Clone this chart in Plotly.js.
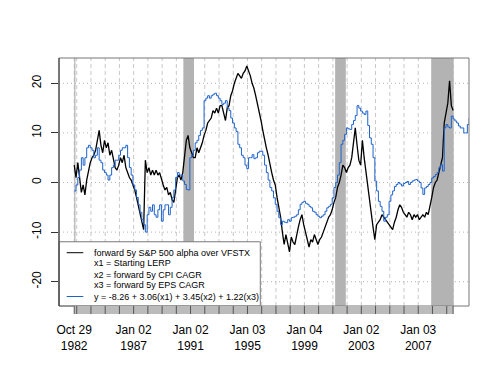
<!DOCTYPE html>
<html><head><meta charset="utf-8">
<script src="https://cdn.plot.ly/plotly-3.0.1.min.js"></script>
<style>body{margin:0;background:#fff}#chart{width:500px;height:380px}</style>
</head><body><div id="chart"></div>
<script>
// ---- data ----
const startYear = 1982.83;      // Oct 29 1982
const stepYears = 0.125;        // sampling step of the series below

// forward 5y S&P 500 alpha over VFSTX
const alphaVals = [
  3.5, 1.0, 4.0, 0.5, -2.0, -0.5, -2.5, 0.5,
  2.5, 4.0, 5.0, 5.5, 6.5, 8.5, 10.5, 7.5,
  6.0, 8.5, 7.0, 8.0, 5.5, 6.5, 5.0, 3.0,
  2.5, 3.5, 5.0, 4.0, 5.5, 3.0, 2.0, 1.0,
  0.5, -0.5, -1.5, -3.0, -4.5, -6.0, -7.5, -9.5,
  4.5, 2.0, 3.0, 1.5, 2.5, 1.5, 2.5, 1.5,
  2.0, 0.5, -0.5, -1.5, -1.0, -2.5, -2.0, -3.5,
  -4.0, -1.5, 1.0, 1.5, 0.5, 2.0, 5.0, 8.5,
  9.5, 7.0, 6.0, 5.0, 5.0, 7.0, 6.0, 7.0,
  8.0, 9.5, 10.5, 12.0, 12.5, 13.0, 14.5, 14.0,
  15.0, 14.0, 15.5, 15.5, 14.0, 12.5, 15.0, 15.5,
  17.5, 18.5, 20.0, 21.0, 22.0, 21.5, 21.0, 22.0,
  22.5, 23.5, 22.5, 21.5, 20.0, 19.0, 17.5, 16.0,
  14.5, 12.5, 10.5, 8.5, 7.0, 5.5, 3.5, 2.0,
  0.5, -0.5, -3.0, -5.0, -7.0, -10.0, -12.5, -10.5,
  -12.0, -14.0, -11.0, -12.0, -12.5, -10.5, -9.0, -7.5,
  -6.5, -8.5, -10.0, -12.0, -13.0, -11.5, -12.0, -10.5,
  -11.5, -12.5, -11.5, -11.0, -10.0, -9.0, -8.0, -7.0,
  -6.5, -5.5, -4.0, -3.0, -1.0, 0.0, 1.5, 3.5,
  3.0, 2.0, 3.0, 3.5, 5.0, 8.0, 11.0, 7.5,
  4.5, 3.5, 8.5, 5.0, 2.0, -0.5, -4.0, -7.0,
  -9.0, -11.5, -8.5, -8.0, -7.5, -6.5, -7.0, -7.5,
  -8.0, -8.5, -9.0, -9.5, -8.0, -7.0, -5.5, -4.5,
  -5.0, -6.0, -6.5, -7.0, -6.0, -6.5, -7.5, -6.5,
  -7.0, -6.5, -7.5, -7.0, -6.5, -7.0, -6.0, -6.5,
  -5.0, -3.0, -1.0, 0.0, 0.5, 2.0, 3.0, 5.0,
  12.0, 14.5, 16.0, 20.5, 15.5, 14.5
];

// y = -8.26 + 3.06(x1) + 3.45(x2) + 1.22(x3)
const modelVals = [
  -1.7, -0.5, 1.0, 2.5, 5.0, 3.5, 5.0, 7.0,
  7.5, 7.0, 6.5, 5.0, 5.5, 7.0, 4.5, 4.0,
  2.5, 2.0, 1.5, 0.5, 1.5, 3.0, 3.5, 4.5,
  4.5, 5.5, 6.5, 7.0, 7.0, 7.5, 5.0, 3.0,
  1.5, -0.5, -1.5, -3.0, -4.5, -6.0, -7.5, -8.5,
  -10.0, -6.5, -5.0, -5.8, -4.5, -6.5, -7.0, -5.5,
  -4.5, -7.8, -5.5, -4.5, -4.5, -6.5, -5.0, -3.0,
  -1.5, 1.0, 2.0, 1.5, 1.5, 0.3, -0.4, -1.4,
  -1.5, 5.0, 5.5, 6.5, 8.0, 8.5, 9.5, 10.5,
  11.0, 16.5, 17.0, 17.5, 17.0, 17.5, 17.8, 18.0,
  17.5, 17.0, 16.5, 15.7, 16.0, 16.5, 15.0, 14.5,
  13.0, 12.0, 11.0, 10.3, 7.7, 7.0, 5.5, 5.0,
  3.5, 2.8, 5.0, 5.0, 5.6, 4.8, 5.0, 6.0,
  6.3, 6.3, 5.5, 3.5, 2.0, 0.5, -1.0, -1.7,
  -3.1, -4.4, -5.8, -7.1, -8.5, -7.8, -8.0, -8.1,
  -7.5, -7.8, -7.1, -7.0, -6.8, -6.5, -5.5, -4.4,
  -4.0, -3.8, -4.2, -4.4, -4.8, -5.1, -5.8, -6.0,
  -6.5, -6.8, -7.1, -6.8, -6.5, -5.8, -5.1, -4.8,
  -4.4, -3.1, -1.0, 0.0, 1.5, 4.0, 7.7, 8.5,
  9.7, 11.0, 10.8, 10.7, 11.7, 12.5, 13.5, 15.5,
  15.0, 14.4, 14.0, 13.7, 14.4, 11.5, 9.0, 7.7,
  5.0, 0.3, -1.7, -3.8, -4.8, -5.8, -7.8, -7.0,
  -6.5, -3.8, -2.5, -1.7, -0.8, -0.4, 0.0, -0.3,
  -0.7, -0.2, 0.0, 0.2, -0.4, 0.0, 0.3, 0.5,
  0.6, 0.3, 0.0, -1.1, -2.4, -1.1, -0.8, -0.4,
  0.0, 0.9, 1.2, 1.6, 2.0, 3.0, 3.6, 2.3,
  11.0, 11.7, 11.2, 11.0, 13.4, 12.8, 12.4, 12.0,
  11.4, 11.0, 11.0, 10.0, 10.0, 11.7, 13.0
];

const recessionStarts = ['1982-10-29', '1990-07-01', '2001-03-01', '2007-12-01'];
const recessionEnds   = ['1982-11-30', '1991-03-31', '2001-11-30', '2009-06-30'];

const tickDates  = ['1982-10-29', '1987-01-02', '1991-01-02', '1995-01-03', '1999-01-04', '2003-01-02', '2007-01-03'];
const tickLabels = ['Oct 29<br>1982', 'Jan 02<br>1987', 'Jan 02<br>1991', 'Jan 03<br>1995', 'Jan 04<br>1999', 'Jan 02<br>2003', 'Jan 03<br>2007'];

const gridYears = [1983,1984,1985,1986,1987,1988,1989,1990,1991,1992,1993,1994,1995,1996,
                   1997,1998,1999,2000,2001,2002,2003,2004,2005,2006,2007,2008,2009];

const yTickVals = [-20, -10, 0, 10, 20];
const yTickText = ['-20', '-10', '0', '10', '20'];

const legendLabels = [
  'forward 5y S&P 500 alpha over VFSTX',
  'x1 = Starting LERP',
  'x2 = forward 5y CPI CAGR',
  'x3 = forward 5y EPS CAGR',
  'y = -8.26 + 3.06(x1) + 3.45(x2) + 1.22(x3)'
];

// ---- helpers ----
function yearToDate(y) {
  const yr = Math.floor(y);
  const s = Date.UTC(yr, 0, 1), e = Date.UTC(yr + 1, 0, 1);
  return new Date(s + (y - yr) * (e - s)).toISOString().slice(0, 10);
}
const alphaDates = alphaVals.map((_, i) => yearToDate(startYear + i * stepYears));
const modelDates = modelVals.map((_, i) => yearToDate(startYear + i * stepYears));

const firstDate = alphaDates[0];
const lastDate = alphaDates[alphaDates.length - 1];
const majorDates = [firstDate].concat(gridYears.map(y => y + '-01-02')).concat([lastDate]);

const FONT = 'Liberation Sans, Arial, Helvetica, sans-serif';
const BLUE = '#1E63CC';

const shapes = [];
// vertical dashed grid lines
majorDates.forEach(d => shapes.push({type: 'line', layer: 'below', xref: 'x', yref: 'paper',
  x0: d, x1: d, y0: 0, y1: 1, line: {color: '#C8C8C8', width: 1, dash: '4px,3px'}}));
// horizontal dotted grid lines
yTickVals.forEach(v => shapes.push({type: 'line', layer: 'below', xref: 'paper', yref: 'y',
  x0: 0, x1: 1, y0: v, y1: v, line: {color: '#B4B4B4', width: 1, dash: '1px,3px'}}));
// recession shading
recessionStarts.forEach((s, i) => shapes.push({type: 'rect', layer: 'below', xref: 'x', yref: 'paper',
  x0: s, x1: recessionEnds[i], y0: 0, y1: 1, fillcolor: '#B3B3B3', line: {width: 0}}));
// legend box
shapes.push({type: 'rect', layer: 'above', xref: 'paper', yref: 'paper',
  x0: 0, x1: 0.491, y0: 0, y1: 0.259, fillcolor: '#FFFFFF', line: {color: '#777777', width: 1}});
shapes.push({type: 'line', layer: 'above', xref: 'paper', yref: 'paper',
  x0: 0.0188, x1: 0.0593, y0: 0.2149, y1: 0.2149, line: {color: '#000000', width: 1}});
shapes.push({type: 'line', layer: 'above', xref: 'paper', yref: 'paper',
  x0: 0.0188, x1: 0.0593, y0: 0.0383, y1: 0.0383, line: {color: BLUE, width: 1}});
// frame
shapes.push({type: 'rect', layer: 'above', xref: 'paper', yref: 'paper',
  x0: 0, x1: 1, y0: 0, y1: 1, line: {color: '#777777', width: 1}});
shapes.push({type: 'line', layer: 'above', xref: 'paper', yref: 'paper',
  x0: 0, x1: 0, y0: 0, y1: 1, line: {color: '#333333', width: 1}});
// observation tick band under the axis
shapes.push({type: 'rect', layer: 'above', xref: 'x', yref: 'paper',
  x0: firstDate, x1: lastDate, y0: -0.0323, y1: 0, fillcolor: '#BBBBBB', line: {width: 0}});
majorDates.forEach(d => shapes.push({type: 'line', layer: 'above', xref: 'x', yref: 'paper',
  x0: d, x1: d, y0: -0.0323, y1: 0, line: {color: '#555555', width: 1}}));

const legendY = [0.2157, 0.1714, 0.1270, 0.0827, 0.0383];
const annotations = legendLabels.map((t, i) => ({
  text: t, xref: 'paper', yref: 'paper', x: 0.0798, y: legendY[i],
  xanchor: 'left', yanchor: 'middle', showarrow: false,
  font: {family: FONT, size: 9, color: '#000'}
}));

const traces = [
  {x: alphaDates, y: alphaVals, type: 'scatter', mode: 'lines',
   line: {color: '#000000', width: 1.3}, hoverinfo: 'skip', showlegend: false},
  {x: modelDates, y: modelVals, type: 'scatter', mode: 'lines',
   line: {color: BLUE, width: 1, shape: 'hv'}, hoverinfo: 'skip', showlegend: false}
];

const layout = {
  width: 500, height: 380,
  margin: {l: 59, r: 31, t: 58, b: 74, pad: 0},
  paper_bgcolor: '#FFFFFF', plot_bgcolor: '#FFFFFF',
  font: {family: FONT, size: 12, color: '#000'},
  showlegend: false,
  xaxis: {
    type: 'date', range: ['1981-10-04', '2010-07-28'],
    tickmode: 'array', tickvals: tickDates, ticktext: tickLabels,
    ticks: 'outside', ticklen: 13, tickcolor: 'rgba(0,0,0,0)',
    showgrid: false, zeroline: false, showline: false,
    tickfont: {family: FONT, size: 12, color: '#000'}
  },
  yaxis: {
    range: [-24.9, 25.1],
    tickmode: 'array', tickvals: yTickVals, ticktext: yTickText,
    tickangle: -90, ticks: 'outside', ticklen: 7, tickcolor: '#333333',
    ticklabelstandoff: 5,
    showgrid: false, zeroline: false, showline: false,
    tickfont: {family: FONT, size: 12, color: '#000'}
  },
  shapes: shapes,
  annotations: annotations
};

Plotly.newPlot('chart', traces, layout, {staticPlot: true, displayModeBar: false});
</script>
</body></html>
